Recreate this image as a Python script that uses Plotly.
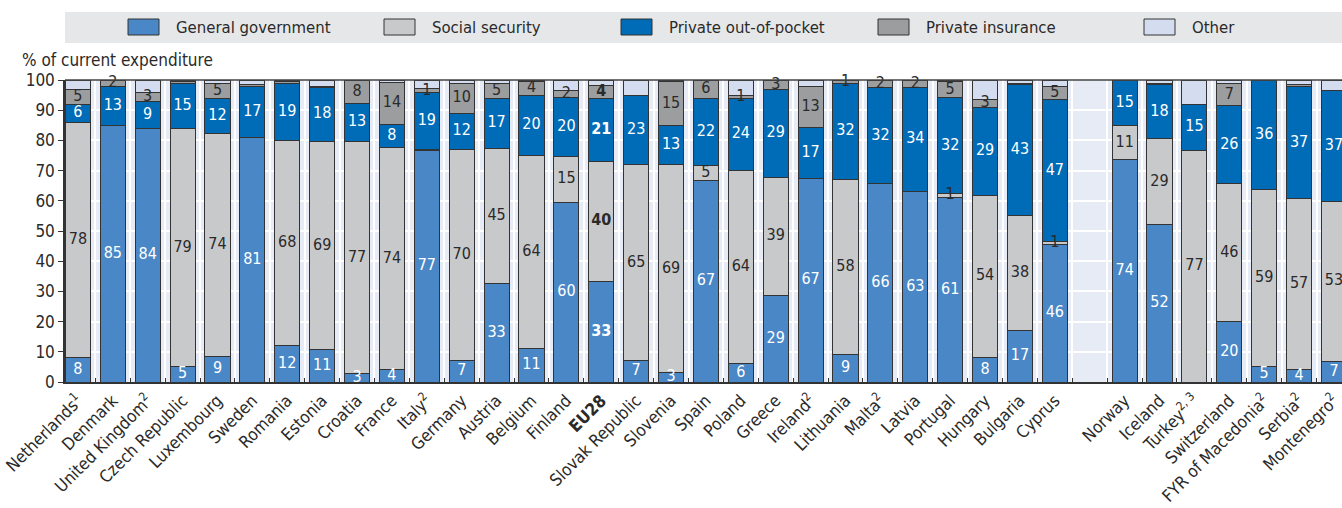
import numpy as np
import plotly.graph_objects as go

countries = ["Netherlands<sup>1</sup>", "Denmark", "United Kingdom<sup>2</sup>", "Czech Republic",
             "Luxembourg", "Sweden", "Romania", "Estonia", "Croatia", "France", "Italy<sup>2</sup>",
             "Germany", "Austria", "Belgium", "Finland", "<b>EU28</b>", "Slovak Republic", "Slovenia",
             "Spain", "Poland", "Greece", "Ireland<sup>2</sup>", "Lithuania", "Malta<sup>2</sup>",
             "Latvia", "Portugal", "Hungary", "Bulgaria", "Cyprus",
             "Norway", "Iceland", "Turkey<sup>2, 3</sup>", "Switzerland", "FYR of Macedonia<sup>2</sup>",
             "Serbia<sup>2</sup>", "Montenegro<sup>2</sup>"]

general_government = [8, 85, 84, 5, 8.6, 81, 12, 10.6, 2.7, 4, 76.8, 7, 32.6, 11, 59.6, 33.4, 7, 3,
                      66.8, 6, 28.8, 67.4, 9, 65.6, 63.2, 61.2, 8.2, 17, 45.6,
                      73.6, 52, 0, 20, 5.2, 4, 6.8]
social_security = [78, 0, 0, 79, 73.6, 0, 68, 69, 77, 73.6, 0.3, 70, 44.6, 64, 15, 39.6, 65, 69,
                   5, 64, 39, 0, 58, 0, 0, 1.3, 53.6, 38, 0.8,
                   11.2, 28.6, 76.6, 45.6, 58.6, 56.6, 53]
out_of_pocket = [6, 13, 9, 15, 11.6, 17, 19, 18, 12.6, 7.7, 18.8, 12, 16.8, 20, 19.6, 21, 23, 12.8,
                 22, 24, 29, 17, 32, 32, 34.4, 31.6, 29.2, 43.4, 47,
                 14.9, 17.8, 15.4, 26, 36.2, 37.4, 36.8]
private_insurance = [5, 2, 3, 0.4, 5.0, 0.4, 0.4, 0.4, 7.7, 14, 1.2, 10, 4.7, 4.4, 2.2, 4.2, 0, 14.6,
                     6.2, 1, 3.2, 13.3, 0.7, 2.4, 2.4, 5.3, 2.7, 0.4, 4.6,
                     0.3, 0.4, 0, 7.2, 0, 0.4, 0]
other = [3, 0, 4, 0.6, 1.2, 1.6, 0.6, 2.0, 0, 0.7, 2.9, 1, 1.3, 0.6, 3.6, 1.8, 5, 0.6,
         0, 5, 0, 2.3, 0.3, 0, 0, 0.6, 6.3, 1.2, 2,
         0, 1.2, 8, 1.2, 0, 1.6, 3.4]

series_names = ["General government", "Social security", "Private out-of-pocket", "Private insurance", "Other"]
series_values = [general_government, social_security, out_of_pocket, private_insurance, other]
series_colors = ["#4A87C6", "#C8C9CB", "#006BB6", "#9C9D9F", "#D4DDEF"]
label_colors = ["white", "#2a2a2a", "white", "#2a2a2a", None]

FONT = "DejaVu Sans Condensed, Liberation Sans Narrow, Arial Narrow, sans-serif"

n_eu = 29
xpos = np.array([i if i < n_eu else i + 1 for i in range(len(countries))], dtype=float)
eu28_idx = countries.index("<b>EU28</b>")

fig = go.Figure()
for name, vals, col in zip(series_names, series_values, series_colors):
    fig.add_trace(go.Bar(x=xpos, y=vals, name=name, marker=dict(color=col, line=dict(color="#333333", width=1)),
                         width=0.72, showlegend=False, hoverinfo="skip"))

# value labels at segment centers
cum = np.zeros(len(countries))
for vals, lc in zip(series_values, label_colors):
    v = np.array(vals, dtype=float)
    mid = cum + v / 2
    cum = cum + v
    if lc is None:
        continue
    texts = []
    for i, val in enumerate(v):
        r = int(np.floor(val + 0.5))
        if r < 1:
            texts.append("")
        elif i == eu28_idx:
            texts.append(f"<b>{r}</b>")
        else:
            texts.append(str(r))
    fig.add_trace(go.Scatter(x=xpos, y=mid, mode="text", text=texts, textposition="middle center",
                             textfont=dict(color=lc, size=16, family=FONT), showlegend=False,
                             hoverinfo="skip", cliponaxis=False))

# layout geometry
W, H = 1342, 508
L, R, T, B = 65, 0, 80, 126
pw, ph = W - L - R, H - T - B
def px(xp):
    return (xp - L) / pw
def py(yp):
    return 1 + (T - yp) / ph

shapes = []
annotations = []
# legend box
shapes.append(dict(type="rect", xref="paper", yref="paper", x0=px(65), x1=px(1342), y0=py(43), y1=py(12),
                   fillcolor="#E6E7E9", line=dict(width=0), layer="below"))
sw_x = [128, 384, 621, 878, 1144]
for sx, name, col in zip(sw_x, series_names, series_colors):
    shapes.append(dict(type="rect", xref="paper", yref="paper", x0=px(sx), x1=px(sx + 31), y0=py(35), y1=py(19),
                       fillcolor=col, line=dict(color="#333333", width=1)))
    annotations.append(dict(text=name, xref="paper", yref="paper", x=px(sx + 46), y=py(27.5), xanchor="left",
                            yanchor="middle", showarrow=False, font=dict(size=16.6, family=FONT, color="#2a2a2a")))
# top border line
shapes.append(dict(type="line", xref="paper", yref="paper", x0=0, x1=1, y0=1, y1=1,
                   line=dict(color="#444444", width=1.5)))
annotations.append(dict(text="% of current expenditure", xref="paper", yref="paper", x=px(20), y=py(60),
                        xanchor="left", yanchor="middle", showarrow=False,
                        font=dict(size=17, family=FONT, color="#2a2a2a")))

fig.update_layout(
    width=W, height=H, barmode="stack", bargap=0.28,
    margin=dict(l=L, r=R, t=T, b=B, pad=0, autoexpand=False),
    paper_bgcolor="white", plot_bgcolor="#E7EBF5",
    font=dict(family=FONT, size=17, color="#2a2a2a"),
    shapes=shapes, annotations=annotations,
    xaxis=dict(range=[-0.37, 36.23], tickmode="array", tickvals=xpos, ticktext=countries,
               tickangle=-45, showgrid=False, zeroline=False, ticks="", automargin=False,
               ticklabeloverflow="allow",
               showline=True, linecolor="#333333", linewidth=2,
               tickfont=dict(size=17, family=FONT, color="#2a2a2a"),
               minor=dict(tick0=0.5, dtick=1, showgrid=True, gridcolor="white", gridwidth=2,
                          ticks="inside", ticklen=4, tickcolor="#333333", tickwidth=1)),
    yaxis=dict(range=[0, 100], tickmode="array", tickvals=list(range(0, 101, 10)), automargin=False,
               showgrid=True, gridcolor="white", gridwidth=1.5, zeroline=False,
               ticks="outside", ticklen=5, tickcolor="#333333", showline=True, linecolor="#333333",
               linewidth=1.5, tickfont=dict(size=17, family=FONT, color="#2a2a2a")),
)

fig.write_html("out.html", config={"displayModeBar": False},
               post_script="document.body.style.margin='0';document.body.style.overflow='hidden';")
